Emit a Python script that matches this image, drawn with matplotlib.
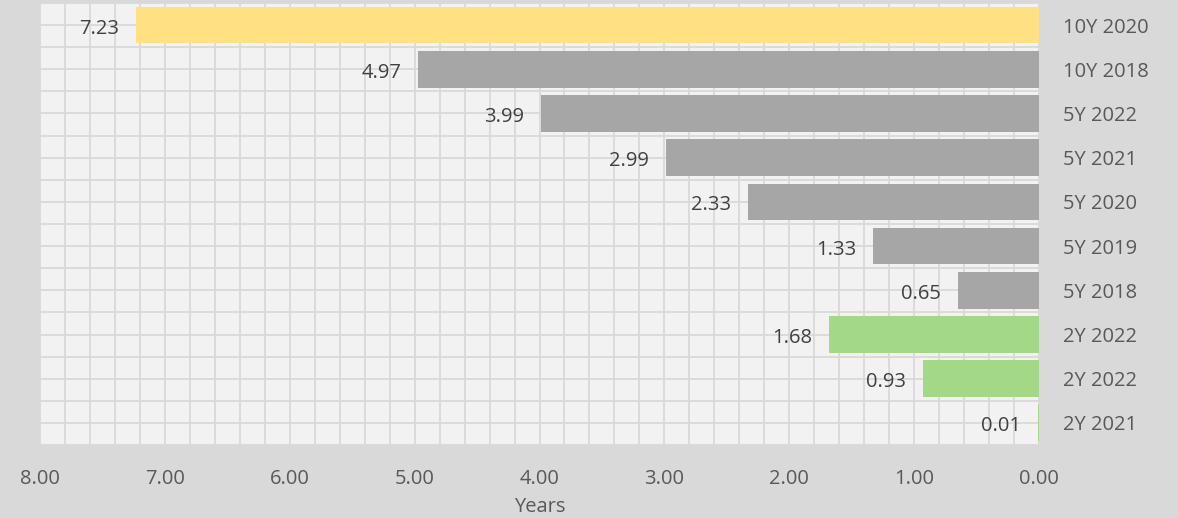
import numpy as np
import matplotlib.pyplot as plt
from matplotlib.ticker import MultipleLocator

categorias = ["10Y 2020", "10Y 2018", "5Y 2022", "5Y 2021", "5Y 2020",
              "5Y 2019", "5Y 2018", "2Y 2022", "2Y 2022", "2Y 2021"]
valores = [7.23, 4.97, 3.99, 2.99, 2.33, 1.33, 0.65, 1.68, 0.93, 0.01]
colores = ["#ffe083"] + ["#a6a6a6"] * 6 + ["#a3d887"] * 3
ticks_x = [8, 7, 6, 5, 4, 3, 2, 1, 0]

plt.rcParams['font.family'] = ['Open Sans', 'DejaVu Sans']

fig = plt.figure(figsize=(11.78, 5.18), dpi=100, facecolor="#d9d9d9")
ax = fig.add_axes([40 / 1178, 73 / 518, 999 / 1178, 442 / 518])
ax.set_facecolor("#f2f2f2")

pos = np.arange(len(categorias))
ax.barh(pos, valores, height=0.83, color=colores, zorder=3)

# etiquetas de datos a la izquierda de cada barra
for p, v in zip(pos, valores):
    ax.annotate(f"{v:.2f}", (v, p), xytext=(-12, -2.5), textcoords="offset points",
                ha="right", va="center", fontsize=14.5, color="#404040", zorder=4)

ax.set_xlim(8, 0)
ax.set_ylim(len(categorias) - 0.5, -0.5)
ax.set_xticks(ticks_x)
ax.set_xticklabels([f"{t:.2f}" for t in ticks_x])
ax.xaxis.set_minor_locator(MultipleLocator(0.2))
ax.set_yticks(pos)
ax.set_yticklabels(categorias)
ax.set_yticks(np.arange(-0.5, len(categorias), 1), minor=True)
ax.yaxis.tick_right()
ax.tick_params(axis="y", which="both", length=0, pad=17, labelsize=14.5, labelcolor="#595959")
ax.tick_params(axis="x", which="both", length=0, pad=17, labelsize=14.5, labelcolor="#595959")

ax.grid(True, which="both", color="#d9d9d9", linewidth=1.3, zorder=0)
ax.set_axisbelow(True)
for s in ax.spines.values():
    s.set_visible(False)

ax.set_xlabel("Years", fontsize=14.5, color="#595959", labelpad=6)

plt.savefig("out.png", dpi=100, facecolor=fig.get_facecolor())
